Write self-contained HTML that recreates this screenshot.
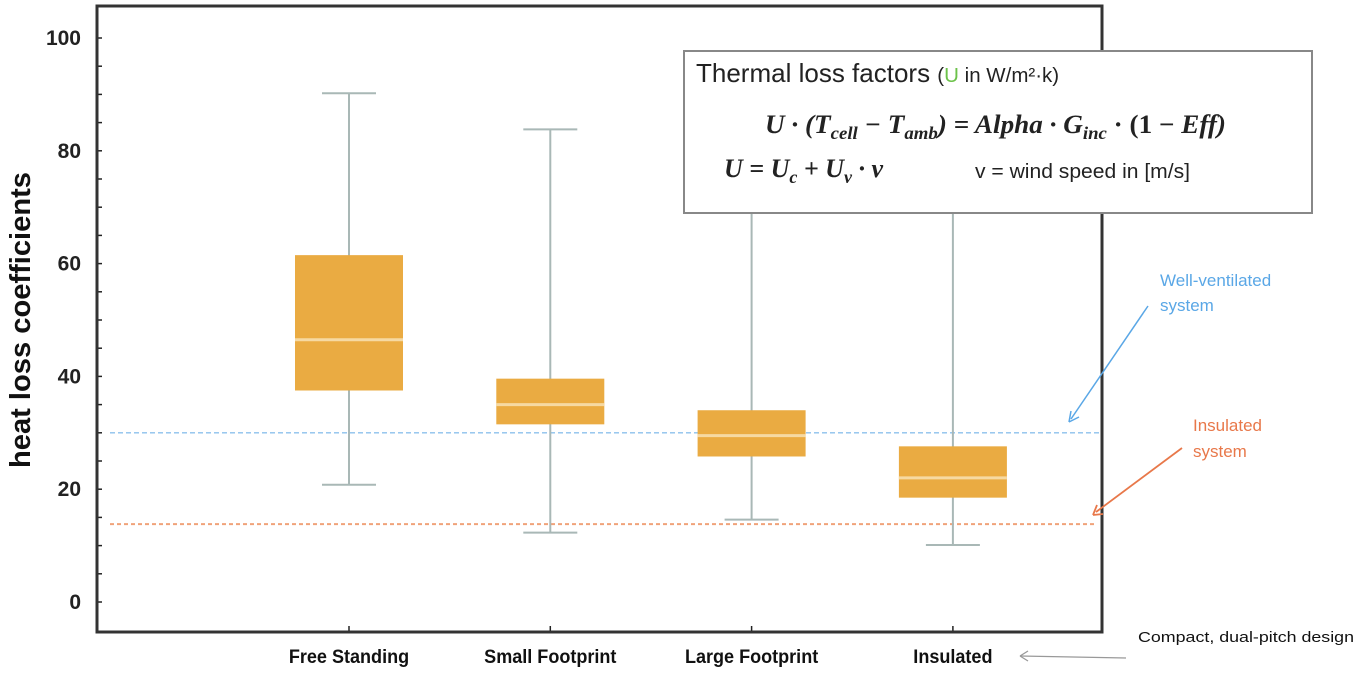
<!DOCTYPE html>
<html><head><meta charset="utf-8"><style>
body{margin:0;background:#fff;width:1358px;height:671px;overflow:hidden;font-family:"Liberation Sans",sans-serif}
</style></head><body>
<svg id="chart" width="1358" height="671" xmlns="http://www.w3.org/2000/svg" font-family="Liberation Sans, sans-serif">
<g id="plot"></g>
</svg>
<script>
const categories = ["Free Standing","Small Footprint","Large Footprint","Insulated"];
const whiskerMin = [20.8, 12.3, 14.6, 10.1];
const q1Values = [37.5, 31.5, 25.8, 18.5];
const medianValues = [46.5, 35.0, 29.5, 22.0];
const q3Values = [61.5, 39.6, 34.0, 27.6];
const whiskerMax = [90.2, 83.8, 80.0, 80.0];
const yTicks = [0,20,40,60,80,100];
const refWellVentilated = [30];
const refInsulated = [13.8];

const NS="http://www.w3.org/2000/svg";
const g=document.getElementById('plot');
const L=97,R=1102,T=6,B=632;
const y0=602, pxPerUnit=5.64;
const yS=v=>y0-v*pxPerUnit;
const xS=i=>349+i*201.3;
function mk(tag,attrs,parent){const e=document.createElementNS(NS,tag);for(const k in attrs)e.setAttribute(k,attrs[k]);(parent||g).appendChild(e);return e;}

let e=mk('line',{x1:110,x2:R,y1:yS(refWellVentilated[0]),y2:yS(refWellVentilated[0]),stroke:'#8cc0ec','stroke-width':1.3,'stroke-dasharray':'5,3'});


e=mk('line',{x1:110,x2:1095,y1:yS(refInsulated[0]),y2:yS(refInsulated[0]),stroke:'#f0a27a','stroke-width':2,'stroke-dasharray':'4,3'});



categories.forEach((c,i)=>{
  const cx=xS(i);
  let w=mk('line',{x1:cx,x2:cx,y1:yS(whiskerMax[i]),y2:yS(whiskerMin[i]),stroke:'#a9b8b6','stroke-width':2});
  
  
  for(const v of [whiskerMax[i],whiskerMin[i]]){
    let cap=mk('line',{x1:cx-27,x2:cx+27,y1:yS(v),y2:yS(v),stroke:'#a9b8b6','stroke-width':2});
    
    
  }
  let b=mk('rect',{x:cx-54,width:108,y:yS(q3Values[i]),height:yS(q1Values[i])-yS(q3Values[i]),fill:'#eaab42'});
  
  
  let m=mk('line',{x1:cx-54,x2:cx+54,y1:yS(medianValues[i]),y2:yS(medianValues[i]),stroke:'#f6d9a2','stroke-width':3});
  
  
  let t=mk('line',{x1:cx,x2:cx,y1:B,y2:B-6,stroke:'#222','stroke-width':1.5});
  
  
  let lb=mk('text',{x:cx,y:663,'text-anchor':'middle','font-size':19,'font-weight':'bold',fill:'#111',transform:`translate(${cx},0) scale(0.95,1) translate(${-cx},0)`});
  lb.textContent=c;
  
  
});

yTicks.forEach(v=>{
  let lb=mk('text',{x:81,y:yS(v)+7,'text-anchor':'end','font-size':21,'font-weight':'bold',fill:'#222'});
  lb.textContent=v;
  
  
});
for(let v=0;v<=100;v+=5){
  let t=mk('line',{x1:L,x2:L+5,y1:yS(v),y2:yS(v),stroke:'#222','stroke-width':1.5});
  
  
}
</script>
<svg style="position:absolute;left:0;top:0" width="1358" height="671" xmlns="http://www.w3.org/2000/svg" font-family="Liberation Sans, sans-serif">
<rect x="97" y="6" width="1005" height="626" fill="none" stroke="#333" stroke-width="3"/>
<text transform="translate(30,320) rotate(-90)" text-anchor="middle" font-size="29" font-weight="bold" fill="#111" textLength="296" lengthAdjust="spacingAndGlyphs">heat loss coefficients</text>
<g>
<rect x="684" y="51" width="628" height="162" fill="#fff" stroke="#888" stroke-width="2"/>
<text x="696" y="82" font-size="26" fill="#222">Thermal loss factors <tspan font-size="20.5">(<tspan fill="#6cc24a">U</tspan> in W/m²·k)</tspan></text>
<text x="765" y="133" font-size="26" font-family="Liberation Serif, serif" font-style="italic" font-weight="bold" fill="#222" textLength="461" lengthAdjust="spacingAndGlyphs">U · (T<tspan font-size="18" dy="6">cell</tspan><tspan dy="-6"> − T</tspan><tspan font-size="18" dy="6">amb</tspan><tspan dy="-6">) = Alpha · G</tspan><tspan font-size="18" dy="6">inc</tspan><tspan dy="-6" font-style="normal"> · (1 − </tspan><tspan>Eff)</tspan></text>
<text x="724" y="177" font-size="26" font-family="Liberation Serif, serif" font-style="italic" font-weight="bold" fill="#222" textLength="159" lengthAdjust="spacingAndGlyphs">U = U<tspan font-size="18" dy="6">c</tspan><tspan dy="-6"> + U</tspan><tspan font-size="18" dy="6">v</tspan><tspan dy="-6"> · v</tspan></text>
<text x="975" y="178" font-size="20" fill="#222" textLength="215" lengthAdjust="spacingAndGlyphs">v = wind speed in [m/s]</text>
</g>
<text font-size="17" fill="#5aa7e6"><tspan x="1160" y="286">Well-ventilated</tspan><tspan x="1160" y="311">system</tspan></text>
<line x1="1148" y1="306" x2="1071" y2="419" stroke="#5aa7e6" stroke-width="1.5"/>
<path d="M1069 422 L1071 411 M1069 422 L1079 417" stroke="#5aa7e6" stroke-width="1.5" fill="none"/>
<text font-size="17" fill="#e8784a"><tspan x="1193" y="431">Insulated</tspan><tspan x="1193" y="457">system</tspan></text>
<line x1="1182" y1="448" x2="1096" y2="512" stroke="#e8784a" stroke-width="1.8"/>
<path d="M1093 515 L1097 505 M1093 515 L1103 514" stroke="#e8784a" stroke-width="1.8" fill="none"/>
<text x="1138" y="642" font-size="15" fill="#111" textLength="216" lengthAdjust="spacingAndGlyphs">Compact, dual-pitch design</text>
<line x1="1126" y1="658" x2="1020" y2="656" stroke="#999" stroke-width="1.3"/>
<path d="M1020 656 L1028 651 M1020 656 L1028 661" stroke="#999" stroke-width="1.3" fill="none"/>
</svg>
</body></html>
